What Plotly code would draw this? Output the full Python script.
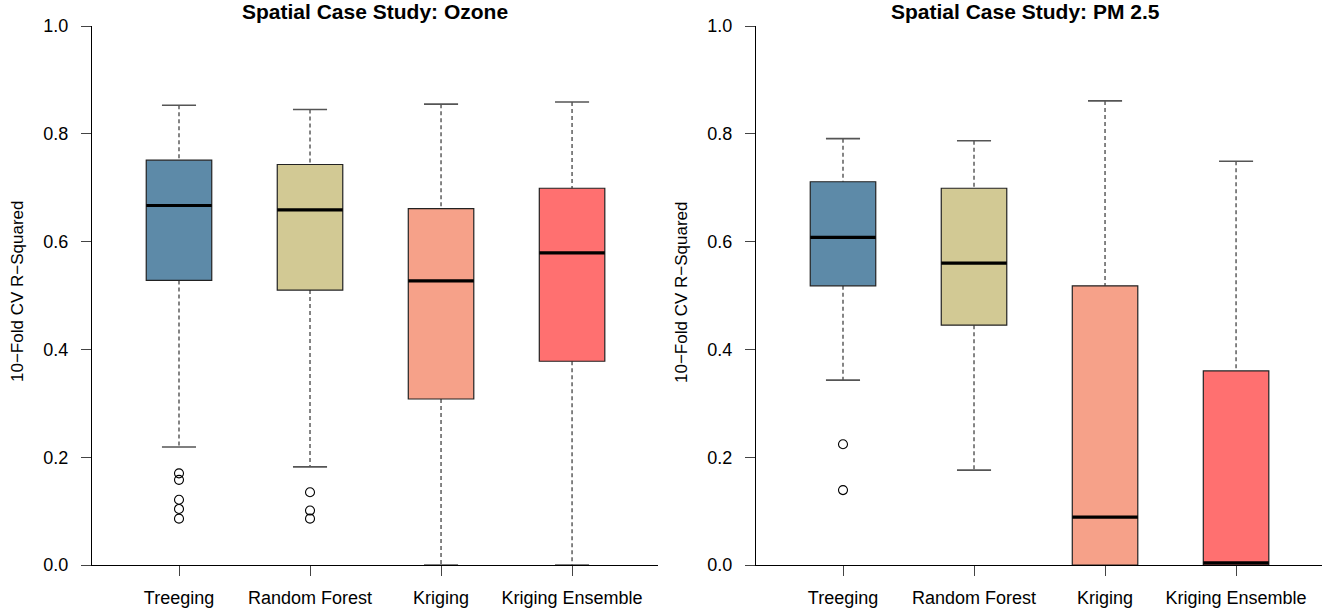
import plotly.graph_objects as go

# ---- data -------------------------------------------------------------
methods = ["Treeging", "Random Forest", "Kriging", "Kriging Ensemble"]
fill_colors = ["#5D8AA8", "#D2C994", "#F6A189", "#FF7070"]

# Ozone: five-number summaries per method
oz_lower = [0.219, 0.182, 0.0, 0.0]
oz_q1 = [0.528, 0.510, 0.308, 0.378]
oz_median = [0.667, 0.659, 0.527, 0.579]
oz_q3 = [0.751, 0.743, 0.661, 0.699]
oz_upper = [0.853, 0.845, 0.855, 0.859]
oz_outliers = [
    [0.170, 0.158, 0.121, 0.104, 0.086],
    [0.135, 0.101, 0.086],
    [],
    [],
]

# PM 2.5: five-number summaries per method
pm_lower = [0.343, 0.176, 0.0, 0.0]
pm_q1 = [0.518, 0.445, 0.0, 0.0]
pm_median = [0.608, 0.560, 0.089, 0.004]
pm_q3 = [0.711, 0.699, 0.518, 0.360]
pm_upper = [0.791, 0.787, 0.861, 0.749]
pm_outliers = [
    [0.224, 0.139],
    [],
    [],
    [],
]

y_ticks = [0.0, 0.2, 0.4, 0.6, 0.8, 1.0]
y_title = "10\u2212Fold CV R\u2212Squared"

# ---- figure -------------------------------------------------------------
W, H = 1326, 613
BOX_HALF = 0.25
CAP_HALF = 0.13

fig = go.Figure()
shapes = []


def add_panel(xref, yref, lower, q1, med, q3, upper, outliers):
    for i, name in enumerate(methods):
        pos = i + 1
        # dashed whiskers
        for a, b in ((upper[i], q3[i]), (q1[i], lower[i])):
            if a != b:
                shapes.append(dict(type="line", xref=xref, yref=yref,
                                   x0=pos, x1=pos, y0=a, y1=b,
                                   line=dict(color="#444444", width=1.3, dash="4px,3px")))
        # caps
        for v in (upper[i], lower[i]):
            shapes.append(dict(type="line", xref=xref, yref=yref,
                               x0=pos - CAP_HALF, x1=pos + CAP_HALF, y0=v, y1=v,
                               line=dict(color="#555555", width=1.6)))
        # box
        shapes.append(dict(type="rect", xref=xref, yref=yref,
                           x0=pos - BOX_HALF, x1=pos + BOX_HALF, y0=q1[i], y1=q3[i],
                           fillcolor=fill_colors[i],
                           line=dict(color="#222222", width=1.2)))
        # median
        shapes.append(dict(type="line", xref=xref, yref=yref,
                           x0=pos - BOX_HALF, x1=pos + BOX_HALF, y0=med[i], y1=med[i],
                           line=dict(color="#000000", width=3.2)))
        if outliers[i]:
            fig.add_trace(go.Scatter(
                x=[pos] * len(outliers[i]), y=outliers[i],
                xaxis=xref, yaxis=yref, mode="markers",
                marker=dict(symbol="circle-open", size=9,
                            color="#000000", line=dict(width=1.1)),
                showlegend=False, hoverinfo="y", name=name))
    # invisible anchor trace so the subplot exists
    fig.add_trace(go.Scatter(x=[1, 4], y=[0, 1], xaxis=xref, yaxis=yref,
                             mode="markers", marker=dict(opacity=0),
                             showlegend=False, hoverinfo="skip"))


add_panel("x", "y", oz_lower, oz_q1, oz_median, oz_q3, oz_upper, oz_outliers)
add_panel("x2", "y2", pm_lower, pm_q1, pm_median, pm_q3, pm_upper, pm_outliers)

font_family = "Liberation Sans, Arial, Helvetica, sans-serif"
y_dom = [48 / H, 587 / H]
x_range = [0.336, 4.656]

xaxis_common = dict(
    range=x_range, tickmode="array", tickvals=[1, 2, 3, 4], ticktext=methods,
    showline=True, linecolor="#000000", linewidth=1.2,
    ticks="outside", ticklen=10, tickcolor="#444444", tickwidth=1.2,
    ticklabelstandoff=6, showgrid=False, zeroline=False, automargin=False,
    tickfont=dict(size=18, color="#000000", family=font_family),
    fixedrange=True,
)
yaxis_common = dict(
    range=[0, 1], domain=y_dom, tickmode="array", tickvals=y_ticks,
    ticktext=[f"{v:.1f}" for v in y_ticks],
    showline=True, linecolor="#000000", linewidth=1.2,
    ticks="outside", ticklen=10, tickcolor="#444444", tickwidth=1.2,
    ticklabelstandoff=9, showgrid=False, zeroline=False, automargin=False,
    tickfont=dict(size=18, color="#000000", family=font_family),
    fixedrange=True,
)

fig.update_layout(
    width=W, height=H,
    margin=dict(l=0, r=0, t=0, b=0, autoexpand=False),
    paper_bgcolor="#FFFFFF", plot_bgcolor="#FFFFFF",
    showlegend=False,
    font=dict(family=font_family, color="#000000"),
    xaxis=dict(domain=[92 / W, 658 / W], anchor="y", **xaxis_common),
    yaxis=dict(anchor="x", **yaxis_common),
    xaxis2=dict(domain=[756 / W, 1322 / W], anchor="y2", **xaxis_common),
    yaxis2=dict(anchor="x2", **yaxis_common),
    shapes=shapes,
    annotations=[
        dict(text="<b>Spatial Case Study: Ozone</b>", xref="paper", yref="paper",
             x=375 / W, y=1 - 12 / H, xanchor="center", yanchor="middle",
             showarrow=False, font=dict(size=21, color="#000000")),
        dict(text="<b>Spatial Case Study: PM 2.5</b>", xref="paper", yref="paper",
             x=1025 / W, y=1 - 12 / H, xanchor="center", yanchor="middle",
             showarrow=False, font=dict(size=21, color="#000000")),
        dict(text=y_title, xref="paper", yref="paper", textangle=-90,
             x=18 / W, y=1 - 292 / H, xanchor="center", yanchor="middle",
             showarrow=False, font=dict(size=17, color="#000000")),
        dict(text=y_title, xref="paper", yref="paper", textangle=-90,
             x=682 / W, y=1 - 292 / H, xanchor="center", yanchor="middle",
             showarrow=False, font=dict(size=17, color="#000000")),
    ],
)

fig.write_html("out.html")
